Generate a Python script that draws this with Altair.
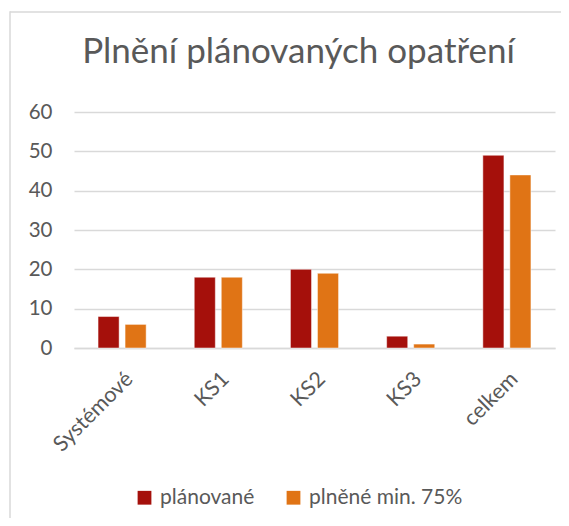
import altair as alt
import pandas as pd

categories = ["Systémové", "KS1", "KS2", "KS3", "celkem"]
planned = [8, 18, 20, 3, 49]
fulfilled = [6, 18, 19, 1, 44]
series_names = ["plánované", "plněné min. 75%"]
colors = ["#A5100B", "#E07415"]
y_ticks = [0, 10, 20, 30, 40, 50, 60]

rows = []
for c, p, f in zip(categories, planned, fulfilled):
    rows.append({"kategorie": c, "série": series_names[0], "hodnota": p})
    rows.append({"kategorie": c, "série": series_names[1], "hodnota": f})
df = pd.DataFrame(rows)

FONT = "Lato"
TXT = "#595959"
GRID = "#D9D9D9"

bars = alt.Chart(df).mark_bar(stroke="white", strokeWidth=0.8, strokeOpacity=0.6).encode(
    x=alt.X(
        "kategorie:N",
        sort=categories,
        scale=alt.Scale(paddingInner=0.5, paddingOuter=0.25),
        axis=alt.Axis(
            title=None,
            labelAngle=-45,
            labelFontSize=21.5,
            labelFont=FONT,
            labelColor=TXT,
            ticks=False,
            domainColor=GRID,
            domainWidth=1.5,
            labelPadding=20,
            grid=False,
        ),
    ),
    xOffset=alt.XOffset("série:N", sort=series_names, scale=alt.Scale(paddingInner=0.22)),
    y=alt.Y(
        "hodnota:Q",
        scale=alt.Scale(domain=[0, 60], nice=False),
        axis=alt.Axis(
            title=None,
            values=y_ticks,
            labelFontSize=20.5,
            labelFont=FONT,
            labelColor=TXT,
            ticks=False,
            domain=False,
            gridColor=GRID,
            gridWidth=1.5,
            labelPadding=22,
        ),
    ),
    color=alt.Color(
        "série:N",
        sort=series_names,
        scale=alt.Scale(domain=series_names, range=colors),
        legend=alt.Legend(
            title=None,
            orient="none",
            direction="horizontal",
            legendX=60,
            legendY=375,
            symbolType="square",
            symbolSize=190,
            symbolStrokeWidth=0,
            labelFontSize=21,
            labelFont=FONT,
            labelColor=TXT,
            labelOffset=5,
            columnPadding=28,
            padding=0,
        ),
    ),
)

frame_data = alt.Data(values=[{"a": 1}])
frame_top = alt.Chart(frame_data).mark_rect(color=GRID).encode(
    x=alt.value(-64), x2=alt.value(500), y=alt.value(-100.75), y2=alt.value(-99.25)
)
frame_left = alt.Chart(frame_data).mark_rect(color=GRID).encode(
    x=alt.value(-64.75), x2=alt.value(-63.25), y=alt.value(-100.75), y2=alt.value(420)
)

chart = alt.layer(frame_top, frame_left, bars).properties(
    width=481,
    height=236,
    autosize=alt.AutoSizeParams(type="none"),
    padding={"left": 66, "top": 104, "right": 6, "bottom": 170},
    title=alt.TitleParams(
        "Plnění plánovaných opatření",
        font=FONT,
        fontSize=35,
        fontWeight="normal",
        color=TXT,
        anchor="middle",
        dx=-16,
        baseline="alphabetic",
        offset=-87,
    ),
).configure_view(stroke=None)

chart.save("out.html", embed_options={"renderer": "svg", "actions": False})
